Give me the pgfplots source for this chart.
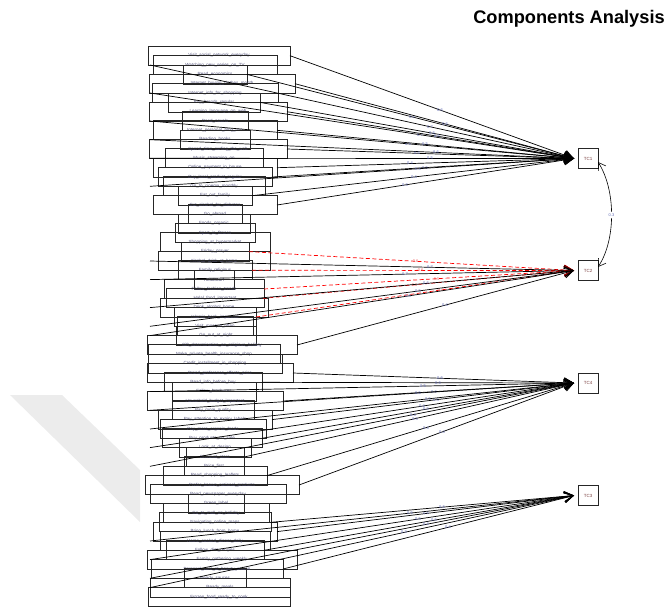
\documentclass[border=0pt]{standalone}
\usepackage{pgfplots}
\pgfplotsset{compat=1.18}
\usepackage{fontspec}
\setmainfont{Liberation Sans}
\usetikzlibrary{arrows.meta}
\definecolor{vtxt}{RGB}{85,85,125}
\definecolor{ltxt}{RGB}{95,105,180}
\definecolor{ntxt}{RGB}{235,100,100}
\definecolor{tctxt}{RGB}{120,60,60}
\definecolor{wm}{RGB}{236,236,236}
\tikzset{
 vbox/.style={draw=black!85, line width=0.7bp, minimum height=19bp, inner sep=0pt, font=\fontsize{4.5}{5}\selectfont, text=vtxt},
 lblp/.style={font=\fontsize{4}{4.5}\selectfont, text=ltxt, inner sep=0.3bp},
 lbln/.style={font=\fontsize{4}{4.5}\selectfont, text=ntxt, inner sep=0.3bp},
 lnp/.style={black, line width=0.7bp, -{Straight Barb[length=9bp,width=10bp]}},
 lnn/.style={red, line width=0.7bp, dash pattern=on 4bp off 2.5bp, -{Straight Barb[length=9bp,width=10bp]}},
}
% variable box: y, xc, half width, label
\newcommand{\vb}[4]{\node[vbox,minimum width=2*#3bp] at (axis cs:#2,#1) {\detokenize{#4}};}
% loading arrow: xs, ys, Fy, label, label x, p/n
\newcommand{\ar}[6]{\pgfmathsetmacro\pp{(#5-#1)/(574-#1)}\edef\tmp{\noexpand\addplot[ln#6] coordinates {(#1,#2) (574,#3)} node[pos=\pp,lbl#6] {#4};}\tmp}
\begin{document}
\begin{tikzpicture}
\begin{axis}[width=670bp,height=609bp,scale only axis,xmin=0,xmax=670,ymin=0,ymax=609,y dir=reverse,hide axis,clip=false]
\path (axis cs:0,0) rectangle (axis cs:670,609);
\addplot[fill=wm,draw=none] coordinates {(10,395) (62,395) (140,470) (140,522)} -- cycle;
\node[anchor=base,font=\fontsize{18.3}{20}\selectfont\bfseries] at (axis cs:569,24) {Components Analysis};
% variable boxes
\vb{55.7}{219}{71}{Visit_social_network_everyday}
\vb{65.0}{215}{62}{Watching_new_series_on_TV}
\vb{74.4}{215}{32}{Read_economics}
\vb{83.7}{222}{73}{Internet_buying_clothes_month}
\vb{93.0}{215}{63}{Internet_info_for_shopping}
\vb{102.4}{214}{46}{Buy_brands_regular}
\vb{111.7}{218}{69}{Learning_language_on_web}
\vb{121.0}{215}{33}{Read_novels}
\vb{130.3}{215}{62}{Internet_personal_blog_use}
\vb{139.7}{215}{35}{Reading_books}
\vb{149.0}{218}{69}{Spend_time_surfing_the_web}
\vb{158.3}{214}{49}{Music_streaming_on}
\vb{167.7}{215}{62}{Online_payment_in_house}
\vb{177.0}{215}{57}{Buy_local_product_regular}
\vb{186.3}{214}{51}{Go_to_cinema_monthly}
\vb{195.7}{215}{37}{Eat_out_family}
\vb{205.0}{215}{62}{Cut_alcohol_for_diabetes}
\vb{214.3}{215}{27}{Go_abroad}
\vb{223.6}{214}{36}{Foods_organic}
\vb{233.0}{215}{40}{Sport_in_fitness}
\vb{242.3}{215}{55}{Shopping_at_hypermarket}
\vb{251.6}{215}{34}{Friday_prayer}
\vb{261.0}{214}{56}{Alcohol_drink_at_home}
\vb{270.3}{215}{37}{Family_religious}
\vb{279.6}{214}{20}{Headscarf}
\vb{289.0}{214}{50}{Follow_fashion_trends}
\vb{298.3}{215}{49}{Halal_food_important}
\vb{307.6}{214}{54}{Drink_alcohol_home}
\vb{317.0}{215}{41}{Islamic_bank_important}
\vb{326.3}{215}{38}{Visit_mosque_often}
\vb{335.6}{216}{40}{Go_out_at_night}
\vb{345.0}{222}{75}{Gift_determination_on_religious_holiday}
\vb{354.3}{214}{66}{Make_private_health_insurance_shop}
\vb{363.6}{215}{67}{Credit_installment_in_shopping}
\vb{373.0}{220}{73}{Brand_preference_affects_price}
\vb{382.3}{213}{49}{Read_info_before_buy}
\vb{391.6}{214}{42}{Follow_brochures}
\vb{401.0}{215}{68}{Household_budget_important}
\vb{410.3}{213}{41}{Pay_more_quality}
\vb{419.6}{215}{57}{Pay_attention_to_expiry_labels}
\vb{429.0}{213}{53}{Pay_more_organic_foods}
\vb{438.3}{212}{50}{Buy_products_on_sale}
\vb{447.6}{215}{36}{Look_at_design}
\vb{457.0}{215}{29}{Discount_store}
\vb{466.3}{214}{30}{Price_first}
\vb{475.6}{215}{52}{Read_shopping_leaflets}
\vb{485.0}{222}{77}{Prefer_known_national_products}
\vb{494.3}{218}{68}{Read_newspaper_everyday}
\vb{503.6}{216}{28}{Green_label}
\vb{513.0}{216}{53}{Go_to_mall_on_holiday}
\vb{522.3}{215}{56}{Navigating_online_maps}
\vb{531.6}{215}{62}{Bring_lunch_from_home}
\vb{541.0}{215}{55}{Home_cooked_dinner_daily}
\vb{550.3}{215}{49}{Follow_diet_recipes}
\vb{559.6}{222}{75}{Family_gathering_weekly}
\vb{569.0}{217}{66}{Personal_care_at_beauty_saloon}
\vb{578.3}{215}{31}{Ready_sauces}
\vb{587.6}{220}{70}{Ready_meals}
\vb{597.0}{219}{71}{Frozen_food_ready_to_cook}
% TC1
\ar{290}{55.7}{158.5}{0.6}{440}{p}
\ar{150}{65.0}{158.5}{0.7}{430}{p}
\ar{247}{74.4}{158.5}{0.5}{412}{p}
\ar{295}{83.7}{158.5}{0.6}{445}{p}
\ar{150}{93.0}{158.5}{0.7}{420}{p}
\ar{260}{102.4}{158.5}{0.6}{432}{p}
\ar{287}{111.7}{158.5}{0.6}{437}{p}
\ar{150}{121.0}{158.5}{0.5}{408}{p}
\ar{277}{130.3}{158.5}{0.5}{425}{p}
\ar{150}{139.7}{158.5}{0.6}{436}{p}
\ar{287}{149.0}{158.5}{0.5}{417}{p}
\ar{150}{158.3}{158.5}{0.5}{430}{p}
\ar{277}{167.7}{158.5}{0.4}{410}{p}
\ar{272}{177.0}{158.5}{0.5}{425}{p}
\ar{150}{186.3}{158.5}{0.4}{418}{p}
\ar{252}{195.7}{158.5}{0.4}{414}{p}
\ar{277}{205.0}{158.5}{0.3}{405}{p}
% TC2
\ar{249}{251.6}{270.5}{-0.6}{415}{n}
\ar{150}{261.0}{270.5}{0.7}{430}{p}
\ar{252}{270.3}{270.5}{-0.6}{420}{n}
\ar{150}{279.6}{270.5}{0.7}{405}{p}
\ar{264}{289.0}{270.5}{-0.5}{436}{n}
\ar{263}{298.3}{270.5}{-0.5}{414}{n}
\ar{150}{307.6}{270.5}{0.6}{426}{p}
\ar{256}{317.0}{270.5}{-0.4}{440}{n}
\ar{150}{326.3}{270.5}{0.5}{418}{p}
\ar{150}{335.6}{270.5}{0.5}{408}{p}
\ar{297}{345.0}{270.5}{0.4}{445}{p}
% TC4
\ar{293}{373.0}{383}{0.6}{440}{p}
\ar{262}{382.3}{383}{0.6}{438}{p}
\ar{150}{391.6}{383}{0.5}{423}{p}
\ar{283}{401.0}{383}{0.6}{434}{p}
\ar{150}{410.3}{383}{0.5}{418}{p}
\ar{272}{419.6}{383}{0.5}{436}{p}
\ar{150}{429.0}{383}{0.5}{428}{p}
\ar{262}{438.3}{383}{0.5}{426}{p}
\ar{150}{447.6}{383}{0.4}{422}{p}
\ar{244}{457.0}{383}{0.5}{415}{p}
\ar{150}{466.3}{383}{0.4}{413}{p}
\ar{267}{475.6}{383}{0.4}{426}{p}
\ar{299}{485.0}{383}{0.4}{442}{p}
% TC3
\ar{271}{522.3}{495.5}{0.6}{442}{p}
\ar{277}{531.6}{495.5}{0.6}{426}{p}
\ar{150}{541.0}{495.5}{0.5}{410}{p}
\ar{264}{550.3}{495.5}{0.5}{434}{p}
\ar{150}{559.6}{495.5}{0.5}{418}{p}
\ar{283}{569.0}{495.5}{0.4}{448}{p}
\ar{150}{578.3}{495.5}{0.4}{426}{p}
\ar{150}{587.6}{495.5}{0.3}{404}{p}
% factor boxes
\node[draw=black!85,line width=0.7bp,minimum width=20bp,minimum height=20bp,inner sep=0pt,font=\fontsize{4.5}{5}\selectfont,text=tctxt] at (axis cs:588,158.5) {TC1};
\node[draw=black!85,line width=0.7bp,minimum width=20bp,minimum height=20bp,inner sep=0pt,font=\fontsize{4.5}{5}\selectfont,text=tctxt] at (axis cs:588,270.5) {TC2};
\node[draw=black!85,line width=0.7bp,minimum width=20bp,minimum height=20bp,inner sep=0pt,font=\fontsize{4.5}{5}\selectfont,text=tctxt] at (axis cs:588,383) {TC4};
\node[draw=black!85,line width=0.7bp,minimum width=20bp,minimum height=20bp,inner sep=0pt,font=\fontsize{4.5}{5}\selectfont,text=tctxt] at (axis cs:588,495.5) {TC3};
\draw[black,line width=0.6bp,{Straight Barb[length=7bp,width=9bp]}-{Straight Barb[length=7bp,width=9bp]}] (axis cs:598,162) .. controls (axis cs:616,190) and (axis cs:616,240) .. (axis cs:598,267) node[pos=0.5,fill=white,lblp,inner sep=1.5bp] {0.3};
\end{axis}
\end{tikzpicture}
\end{document}
